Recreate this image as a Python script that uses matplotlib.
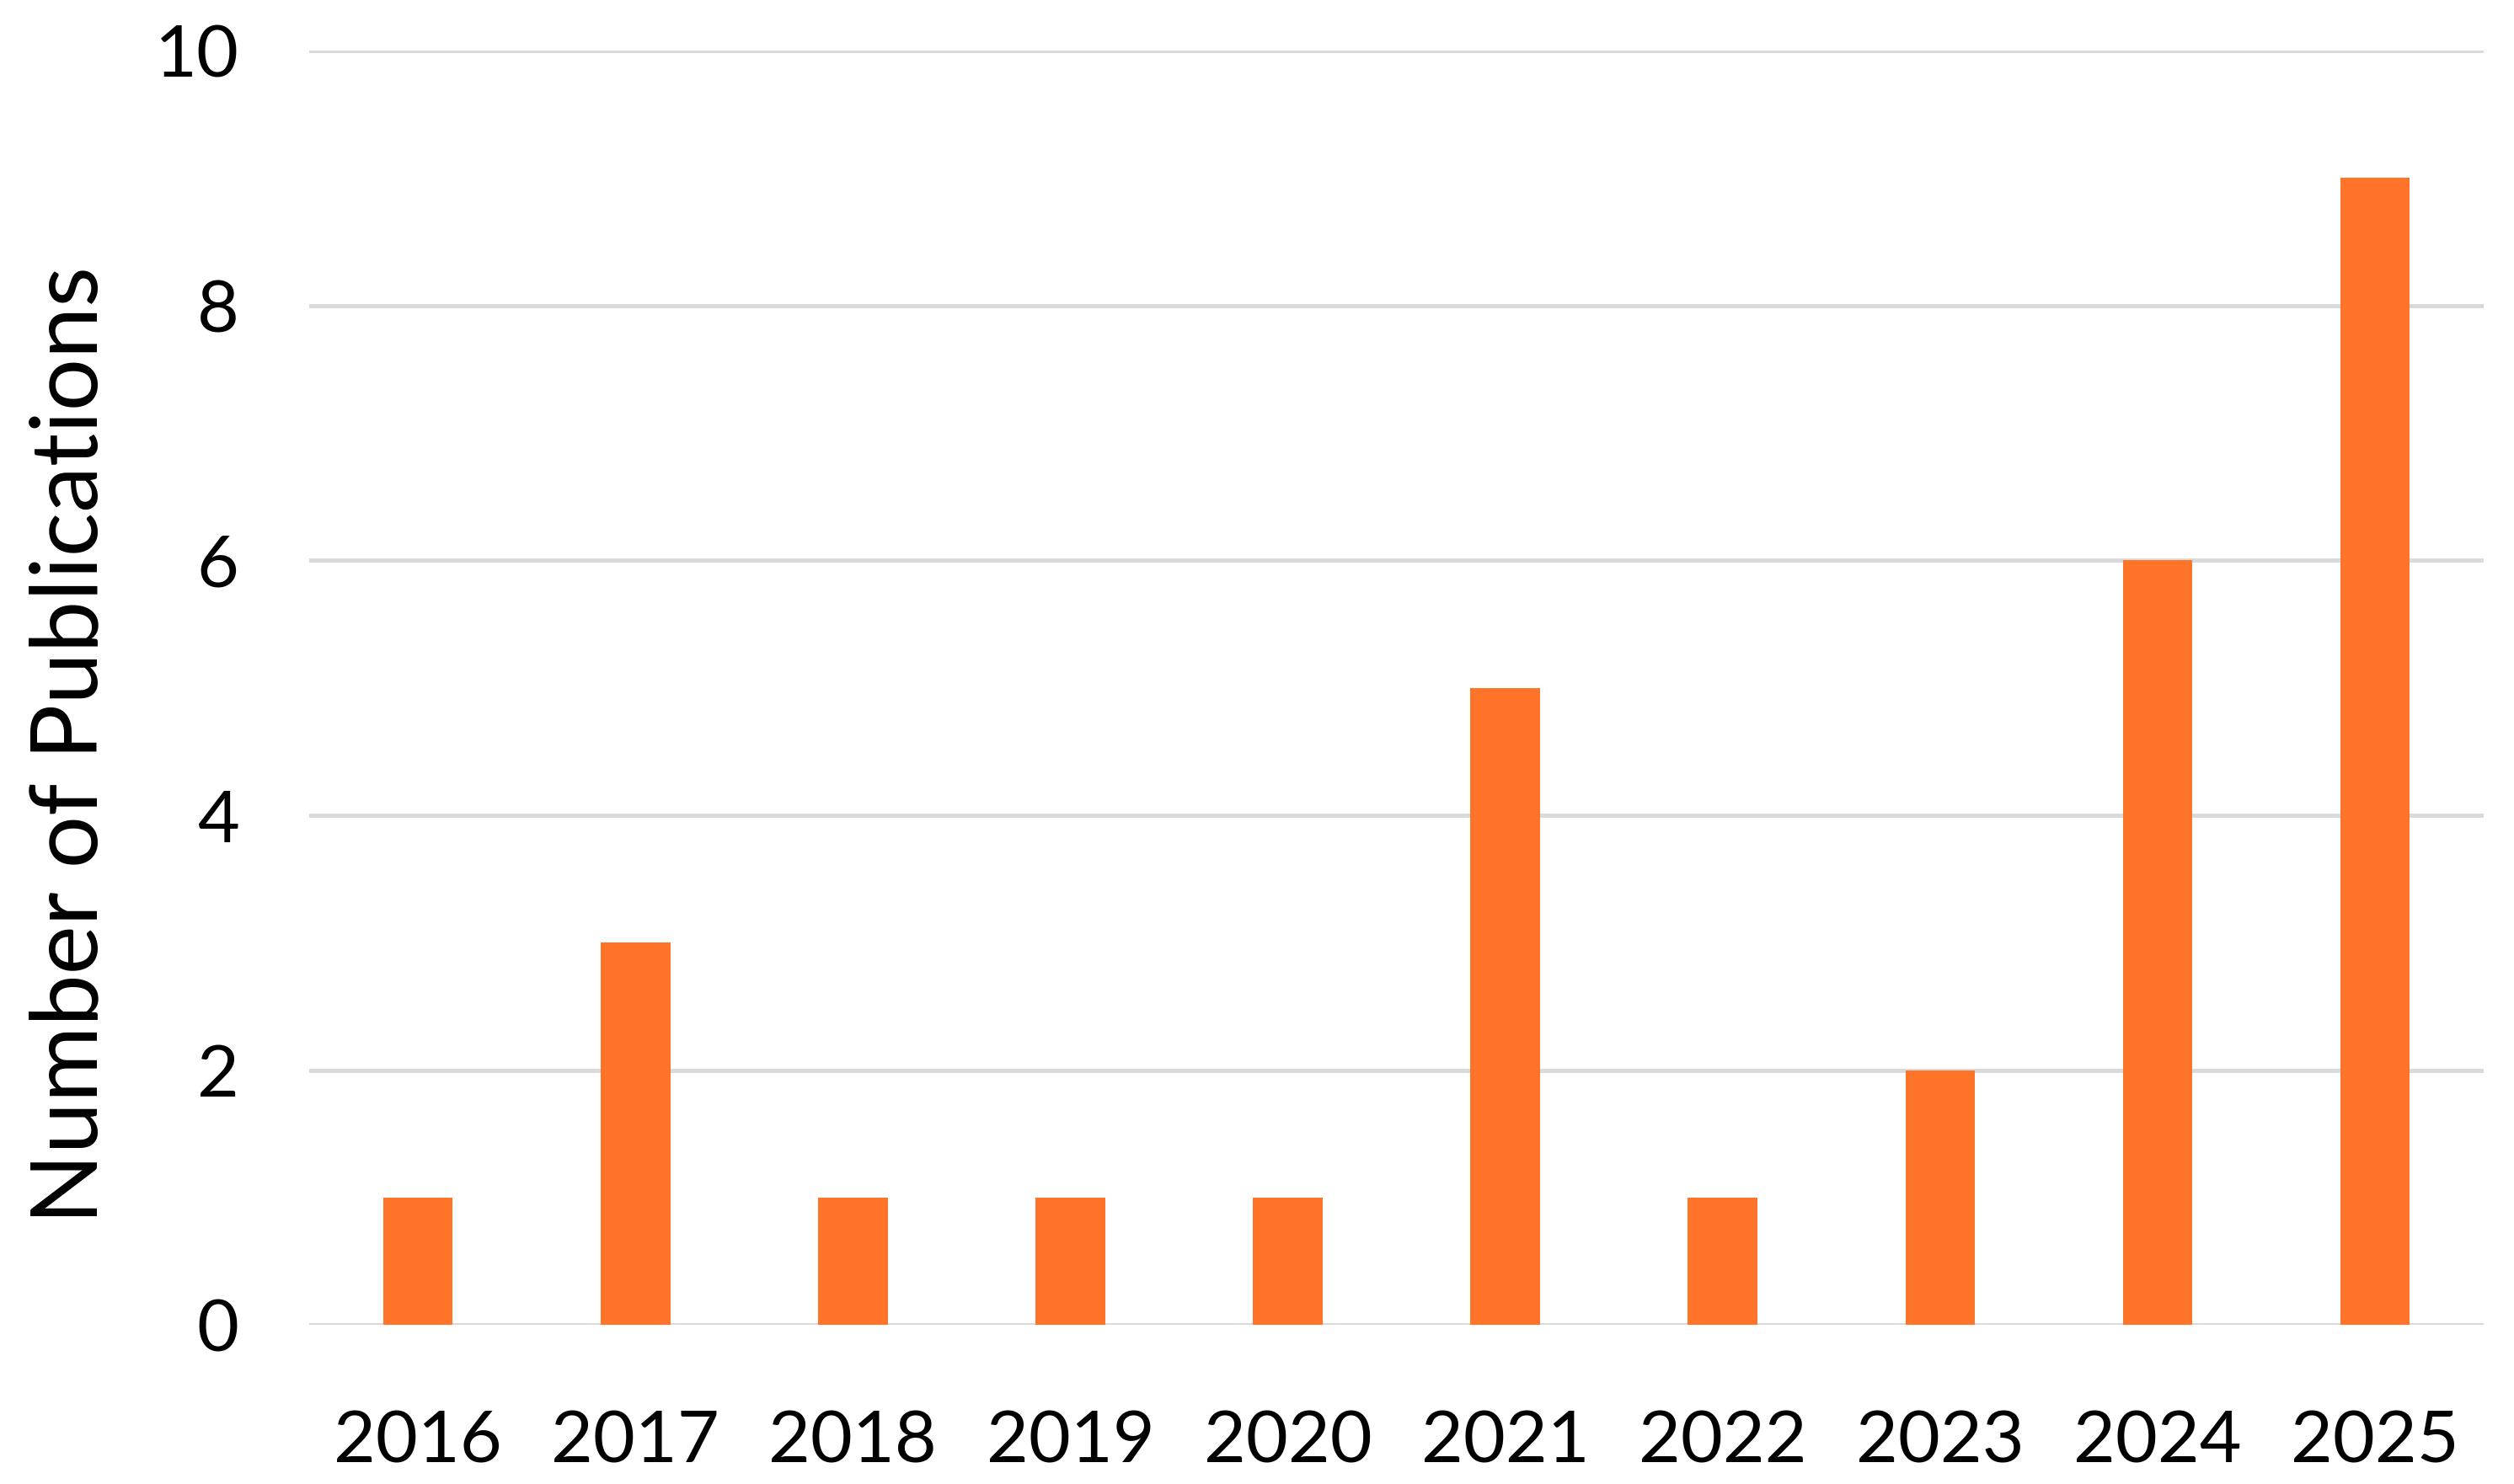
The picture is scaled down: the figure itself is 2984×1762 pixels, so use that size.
import matplotlib.pyplot as plt

# Data
years = ['2016', '2017', '2018', '2019', '2020', '2021', '2022', '2023', '2024', '2025']
counts = [1, 3, 1, 1, 1, 5, 1, 2, 6, 9]
yticks = [0, 2, 4, 6, 8, 10]

plt.rcParams['font.family'] = ['Lato', 'DejaVu Sans']

fig = plt.figure(figsize=(29.84, 17.62), dpi=100)
ax = fig.add_axes([0.123, 0.107, 0.865, 0.859])

x = range(len(years))
ax.bar(x, counts, width=0.32, color='#FF7429', zorder=3)

ax.set_xlim(-0.5, len(years) - 0.5)
ax.set_ylim(0, 10)
ax.set_yticks(yticks)
ax.set_xticks(list(x))
ax.set_xticklabels(years)

ax.yaxis.grid(True, color='#d9d9d9', linewidth=3.5, zorder=0)
ax.set_axisbelow(True)
for s in ax.spines.values():
    s.set_visible(False)
ax.axhline(0, color='#d9d9d9', linewidth=3.5, zorder=2)

ax.tick_params(axis='both', length=0, labelsize=62)
ax.tick_params(axis='x', pad=72)
ax.tick_params(axis='y', pad=60)
ax.set_ylabel('Number of Publications', fontsize=79)
# label sits a bit below the axes centre in the original
ax.yaxis.set_label_coords(-0.09, 0.455)

fig.savefig('out.png', dpi=100, facecolor='white')
